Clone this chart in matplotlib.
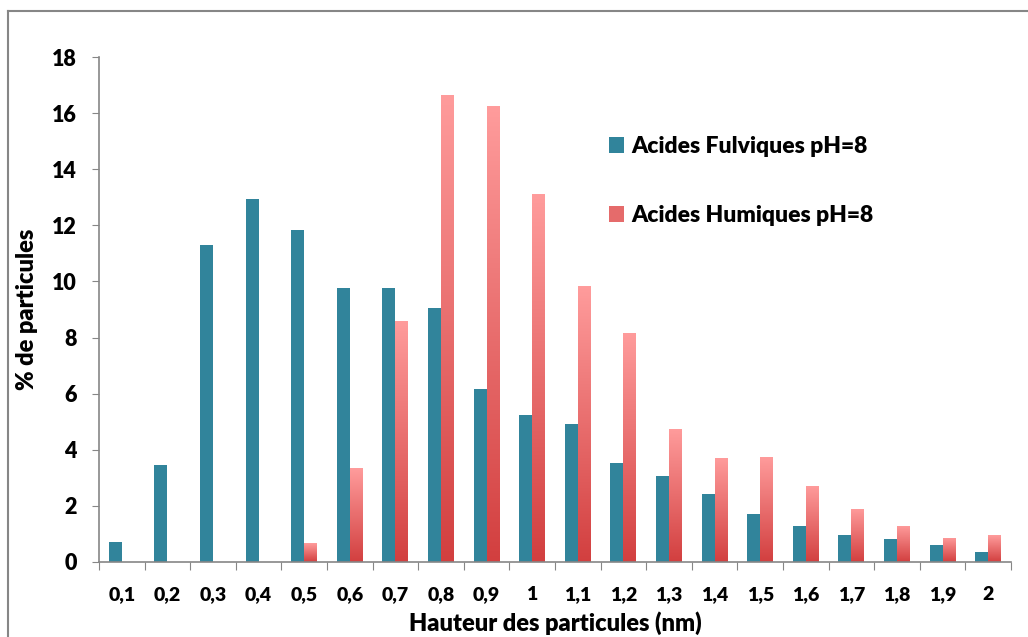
import numpy as np
import matplotlib
matplotlib.use('Agg')
import matplotlib.pyplot as plt
from matplotlib.lines import Line2D
from matplotlib.patches import Patch
from matplotlib.colors import LinearSegmentedColormap

# données
hauteurs = ['0,1', '0,2', '0,3', '0,4', '0,5', '0,6', '0,7', '0,8', '0,9', '1',
            '1,1', '1,2', '1,3', '1,4', '1,5', '1,6', '1,7', '1,8', '1,9', '2']
fulviques = [0.70, 3.46, 11.30, 12.93, 11.82, 9.78, 9.78, 9.05, 6.17, 5.25,
             4.91, 3.54, 3.07, 2.43, 1.70, 1.29, 0.96, 0.82, 0.60, 0.36]
humiques = [0.00, 0.00, 0.00, 0.00, 0.67, 3.35, 8.60, 16.65, 16.24, 13.10,
            9.83, 8.18, 4.75, 3.71, 3.75, 2.71, 1.89, 1.29, 0.86, 0.96]
y_ticks = [0, 2, 4, 6, 8, 10, 12, 14, 16, 18]

BLEU = '#31849B'
ROSE_HAUT = '#FF9C9C'
ROUGE_BAS = '#D23F3F'
GRIS = '#868686'
POIDS = 'heavy'

plt.rcParams['font.family'] = ['Lato', 'DejaVu Sans']
plt.rcParams['font.weight'] = POIDS

W, H = 1028, 637
fig = plt.figure(figsize=(W / 100, H / 100), dpi=100)
ax = fig.add_axes([99 / W, 1 - 562 / H, (1011 - 99) / W, (562 - 57) / H])

x = np.arange(len(hauteurs))
w = 0.285
ax.bar(x - w / 2, fulviques, w, color=BLEU, zorder=2)
barres = ax.bar(x + w / 2, humiques, w, color='none', zorder=2)

# dégradé vertical pour les barres rouges
cmap = LinearSegmentedColormap.from_list('rose', [ROUGE_BAS, ROSE_HAUT])
grad = np.linspace(0, 1, 256).reshape(-1, 1)
for b in barres:
    if b.get_height() <= 0:
        continue
    x0, y0 = b.get_x(), b.get_y()
    im = ax.imshow(grad, cmap=cmap, origin='lower', aspect='auto', zorder=2,
                   extent=[x0, x0 + b.get_width(), y0, y0 + b.get_height()])
    im.set_clip_path(b)

ax.set_xlim(-0.5, len(hauteurs) - 0.5)
ax.set_ylim(0, 18)

# axes
for s in ['top', 'right']:
    ax.spines[s].set_visible(False)
for s in ['left', 'bottom']:
    ax.spines[s].set_color(GRIS)
    ax.spines[s].set_linewidth(1.2)

ax.set_yticks(y_ticks)
ax.set_yticklabels([str(v) for v in y_ticks], fontsize=15.5, fontweight=POIDS)
ax.tick_params(axis='y', length=5, color=GRIS, pad=11)

ax.set_xticks(np.arange(len(hauteurs) + 1) - 0.5)
ax.set_xticklabels([])
ax.set_xticks(x, minor=True)
ax.set_xticklabels(hauteurs, minor=True, fontsize=14, fontweight=POIDS)
ax.tick_params(axis='x', which='major', length=6, color=GRIS)
ax.tick_params(axis='x', which='minor', length=0, pad=17)

ax.set_xlabel('Hauteur des particules (nm)', fontsize=17, fontweight=POIDS, labelpad=6)
ax.set_ylabel('% de particules', fontsize=17, fontweight=POIDS, labelpad=10)

# légende
poignees = [Patch(facecolor=BLEU, label='Acides Fulviques pH=8'),
            Patch(facecolor='#E56B6B', label='Acides Humiques pH=8')]
ax.legend(handles=poignees, loc='center left', bbox_to_anchor=(598 / W, 1 - 181 / H),
          bbox_transform=fig.transFigure, frameon=False,
          handlelength=0.65, handleheight=0.65, handletextpad=0.3,
          labelspacing=2.1, borderpad=0, prop={'weight': POIDS, 'size': 16.5})

# cadre extérieur (haut et gauche)
fig.add_artist(Line2D([8 / W, 1], [1 - 11 / H, 1 - 11 / H], color=GRIS, lw=1.5,
                      transform=fig.transFigure))
fig.add_artist(Line2D([8 / W, 8 / W], [0, 1 - 11 / H], color=GRIS, lw=1.5,
                      transform=fig.transFigure))

fig.savefig('out.png', dpi=100)
